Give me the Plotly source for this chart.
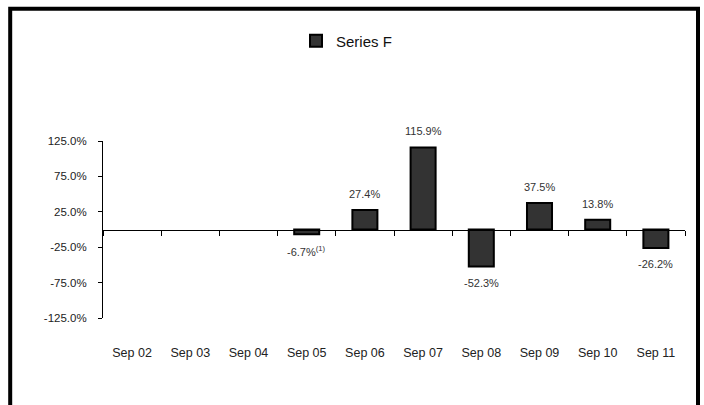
import plotly.graph_objects as go

categories = ["Sep 02", "Sep 03", "Sep 04", "Sep 05", "Sep 06", "Sep 07", "Sep 08", "Sep 09", "Sep 10", "Sep 11"]
values = [None, None, None, -6.7, 27.4, 115.9, -52.3, 37.5, 13.8, -26.2]
labels = ["", "", "", "-6.7%<sup>(1)</sup>", "27.4%", "115.9%", "-52.3%", "37.5%", "13.8%", "-26.2%"]
series_name = "Series F"
y_ticks = [-125, -75, -25, 25, 75, 125]
y_tick_text = ["-125.0%", "-75.0%", "-25.0%", "25.0%", "75.0%", "125.0%"]

FONT = "Liberation Sans, Arial, sans-serif"

W, H = 704, 405
L, R, T = 103, 19, 141
PW, PH = W - L - R, 177
B = H - T - PH

fig = go.Figure()
fig.add_trace(go.Bar(
    x=categories, y=values, name=series_name,
    marker=dict(color="#333333", line=dict(color="#000000", width=2)),
    showlegend=True,
))

annotations = []
for c, v, t in zip(categories, values, labels):
    if v is None:
        continue
    annotations.append(dict(
        x=c, y=v, xref="x", yref="y", text=t, showarrow=False,
        yanchor="bottom" if v > 0 else "top", yshift=8 if v > 0 else -8,
        font=dict(family=FONT, size=11, color="#333333"),
    ))

fig.update_layout(
    width=W, height=H,
    margin=dict(l=L, r=R, t=T, b=B, pad=0),
    paper_bgcolor="white", plot_bgcolor="white",
    font=dict(family=FONT, color="#222222"),
    bargap=0.57,
    annotations=annotations,
    legend=dict(orientation="h", xref="container", yref="container",
                x=296 / W, y=1 - 41 / H, xanchor="left", yanchor="middle",
                font=dict(family=FONT, size=15, color="#111111")),
    xaxis=dict(
        anchor="free", position=0.5, showline=True, linecolor="black", linewidth=1,
        ticks="outside", ticklen=5, tickcolor="black", tickson="boundaries",
        showgrid=False, ticklabelstandoff=111,
        tickfont=dict(family=FONT, size=12.5, color="#222222"),
    ),
    yaxis=dict(
        range=[-125, 125], tickmode="array", tickvals=y_ticks, ticktext=y_tick_text,
        showline=True, linecolor="black", linewidth=1, ticks="outside", ticklen=4,
        tickcolor="black", showgrid=False, zeroline=False, ticklabelstandoff=9,
        tickfont=dict(family=FONT, size=11.5, color="#222222"),
    ),
    shapes=[dict(type="rect", xref="paper", yref="paper",
                 x0=(10.2 - L) / PW, x1=(698 - L) / PW,
                 y0=(PH + T - 440) / PH, y1=(PH + T - 8.7) / PH,
                 line=dict(color="black", width=4), fillcolor="rgba(0,0,0,0)", layer="above")],
)

fig.write_html("out.html", config={"displayModeBar": False},
               post_script="document.body.style.margin='0';document.body.style.overflow='hidden';")
